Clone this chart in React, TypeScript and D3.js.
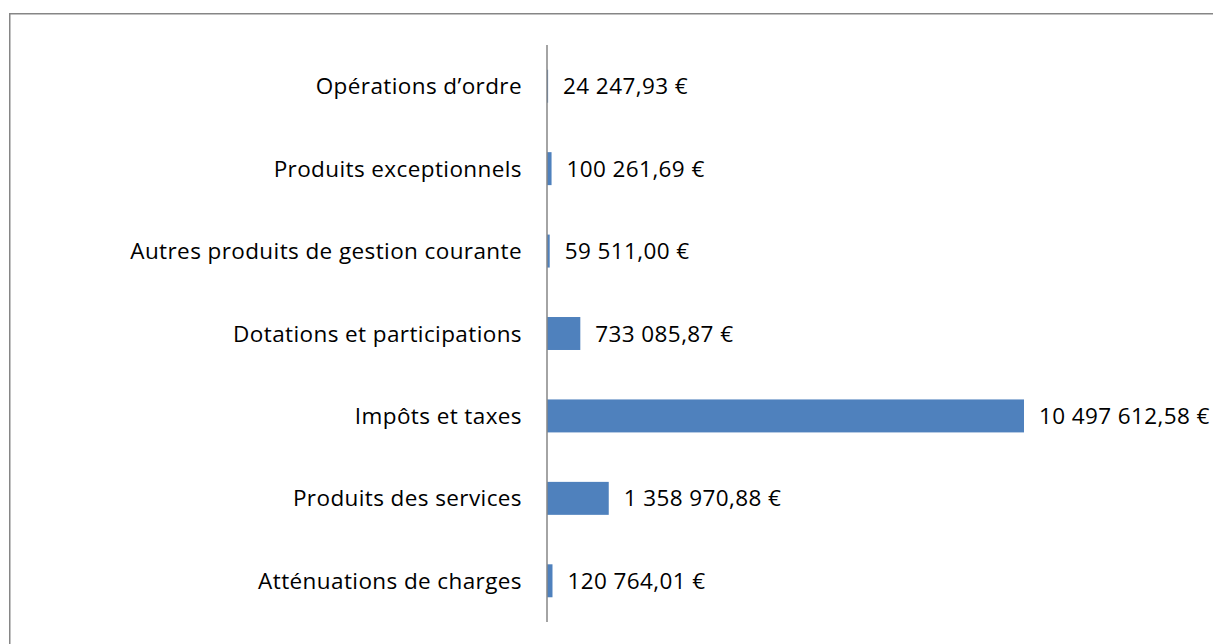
import React from "react";
import * as d3 from "d3";

const categories = [
  "Opérations d’ordre",
  "Produits exceptionnels",
  "Autres produits de gestion courante",
  "Dotations et participations",
  "Impôts et taxes",
  "Produits des services",
  "Atténuations de charges",
];
const values = [24247.93, 100261.69, 59511.0, 733085.87, 10497612.58, 1358970.88, 120764.01];
const valueLabels = [
  "24 247,93 €",
  "100 261,69 €",
  "59 511,00 €",
  "733 085,87 €",
  "10 497 612,58 €",
  "1 358 970,88 €",
  "120 764,01 €",
];

const W = 1213;
const H = 644;
const FONT = "'Open Sans', 'Noto Sans', sans-serif";

export default function App() {
  const x0 = 547;
  const x = d3.scaleLinear().domain([0, d3.max(values) as number]).range([x0, 1024]);
  const y = d3.scaleBand<string>().domain(categories).range([45, 622]).paddingInner(0.6).paddingOuter(0.3);
  const yc = (c: string) => (y(c) as number) + y.bandwidth() / 2;
  const textStyle = { fontVariantLigatures: "none" as const, letterSpacing: "0.4px" };
  return (
    <svg width={W} height={H} style={{ position: "absolute", left: 0, top: 0, background: "#fff" }}>
      <rect x={0} y={0} width={W} height={H} fill="#fff" />
      <path d={`M9.75,${H + 2}V13.75H${W + 2}`} fill="none" stroke="#868686" strokeWidth={1.5} />
      {categories.map((c, i) => (
        <g key={c}>
          <rect x={x0} y={y(c)} width={x(values[i]) - x0} height={y.bandwidth()} fill="#4F81BD" />
          <text x={522} y={yc(c)} dy="0.36em" textAnchor="end" fontFamily={FONT} fontSize={22.5} fill="#000" style={textStyle}>
            {c}
          </text>
          <text x={x(values[i]) + 15} y={yc(c)} dy="0.36em" fontFamily={FONT} fontSize={22.5} fill="#000" style={textStyle}>
            {valueLabels[i]}
          </text>
        </g>
      ))}
      <line x1={x0} x2={x0} y1={45} y2={622} stroke="#868686" strokeWidth={1.5} />
    </svg>
  );
}
